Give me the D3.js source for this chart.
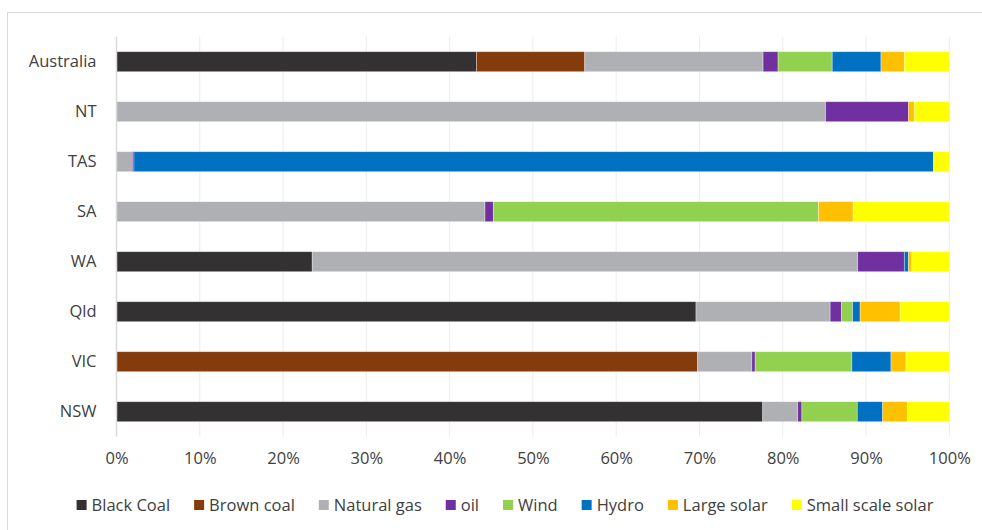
<!DOCTYPE html>
<html>
<head>
<meta charset="utf-8">
<script src="https://cdn.jsdelivr.net/npm/d3@7"></script>
<style>
  body { margin: 0; background: #fff; }
  text { font-family: "Open Sans", sans-serif; fill: #404040; }
</style>
</head>
<body>
<svg id="chart"></svg>
<script>
let w = 982;
let h = 530;

// regions, top to bottom
let regions = ["Australia", "NT", "TAS", "SA", "WA", "Qld", "VIC", "NSW"];

// share of generation (%) per fuel, same order as regions
let blackCoal   = [43.2, 0,    0,    0,     23.5, 69.55, 0,     77.6];
let brownCoal   = [13.0, 0,    0,    0,     0,    0,     69.75, 0];
let naturalGas  = [21.4, 85.1, 1.9,  44.25, 65.5, 16.1,  6.5,   4.2];
let oil         = [1.8,  9.95, 0.2,  1.0,   5.6,  1.35,  0.4,   0.5];
let wind        = [6.5,  0,    0,    39.05, 0,    1.35,  11.6,  6.65];
let hydro       = [5.85, 0,    96.0, 0,     0.5,  0.9,   4.7,   3.05];
let largeSolar  = [2.8,  0.7,  0,    4.15,  0.4,  4.8,   1.8,   3.0];
let smallSolar  = [5.4,  4.2,  1.9,  11.55, 4.5,  5.9,   5.2,   5.0];

let seriesNames = ["Black Coal", "Brown coal", "Natural gas", "oil", "Wind", "Hydro", "Large solar", "Small scale solar"];
let seriesValues = [blackCoal, brownCoal, naturalGas, oil, wind, hydro, largeSolar, smallSolar];
let seriesColors = ["#333132", "#843c0c", "#afb0b3", "#7030a0", "#92d050", "#0070c0", "#ffc000", "#ffff00"];

let xTicks = [0, 0.1, 0.2, 0.3, 0.4, 0.5, 0.6, 0.7, 0.8, 0.9, 1];

let rows = regions.map((r, i) => {
    let row = { region: r };
    seriesNames.forEach((s, j) => { row[s] = seriesValues[j][i]; });
    return row;
});

let dataset = d3.stack()
    .keys(seriesNames)
    .offset(d3.stackOffsetExpand)(rows);

let color = d3.scaleOrdinal().domain(seriesNames).range(seriesColors);

let chart = d3.select("#chart")
    .attr("width", w)
    .attr("height", h);

// chart area border
chart.append("rect")
    .attr("x", 7.5)
    .attr("y", 12.5)
    .attr("width", w + 20)
    .attr("height", h + 20)
    .attr("fill", "none")
    .attr("stroke", "#d9d9d9");

let xScale = d3.scaleLinear()
    .domain([0, 1])
    .range([116.5, 949.3]);

let yScale = d3.scaleBand()
    .domain(regions)
    .range([36.7, 436.7])
    .paddingInner(0.6)
    .paddingOuter(0.3);

// gridlines
chart.append("g")
    .selectAll("line")
    .data(xTicks.slice(1))
    .join("line")
        .attr("x1", d => xScale(d))
        .attr("x2", d => xScale(d))
        .attr("y1", 36.7)
        .attr("y2", 436.7)
        .attr("stroke", "#ececec")
        .attr("stroke-width", 1);

// bars
chart.append("g")
    .selectAll("g")
    .data(dataset)
    .join("g")
        .attr("fill", d => color(d.key))
    .selectAll("rect")
    .data(d => d)
    .join("rect")
        .attr("x", d => xScale(d[0]))
        .attr("y", d => yScale(d.data.region))
        .attr("width", d => xScale(d[1]) - xScale(d[0]))
        .attr("height", yScale.bandwidth())
        .attr("stroke", "#ffffff")
        .attr("stroke-opacity", 0.45)
        .attr("stroke-width", 0.75);

// vertical axis line
chart.append("line")
    .attr("x1", xScale(0))
    .attr("x2", xScale(0))
    .attr("y1", 36.7)
    .attr("y2", 436.7)
    .attr("stroke", "#d9d9d9")
    .attr("stroke-width", 1.5);

// axes
let xAxis = d3.axisBottom(xScale)
    .tickValues(xTicks)
    .tickSize(0)
    .tickPadding(0)
    .tickFormat(d3.format(".0%"));

let xAxisGroup = chart.append("g")
    .attr("transform", "translate(0, 452)")
    .call(xAxis);
xAxisGroup.select(".domain").remove();
xAxisGroup.selectAll("text")
    .attr("font-size", 16.5)
    .attr("dy", "0.71em")
    .style("font-family", "'Open Sans', sans-serif");

let yAxis = d3.axisLeft(yScale)
    .tickSize(0)
    .tickPadding(20);

let yAxisGroup = chart.append("g")
    .attr("transform", `translate(${xScale(0)}, 0)`)
    .call(yAxis);
yAxisGroup.select(".domain").remove();
yAxisGroup.selectAll("text")
    .attr("font-size", 16.5)
    .style("font-family", "'Open Sans', sans-serif");

// legend, laid out left to right and centred
let legend = chart.append("g")
    .attr("font-size", 16.5);

let items = legend.selectAll("g")
    .data(seriesNames)
    .join("g");

items.append("rect")
    .attr("width", 10)
    .attr("height", 10)
    .attr("y", -5)
    .attr("fill", d => color(d));

items.append("text")
    .attr("x", 15)
    .attr("dy", "0.35em")
    .text(d => d);

let gap = 24;
let cursor = 0;
items.each(function () {
    let tw = d3.select(this).select("text").node().getComputedTextLength();
    d3.select(this).attr("transform", `translate(${cursor}, 0)`);
    cursor += 15 + tw + gap;
});
let legendWidth = cursor - gap;
legend.attr("transform", `translate(${505 - legendWidth / 2}, 505)`);
</script>
</body>
</html>
